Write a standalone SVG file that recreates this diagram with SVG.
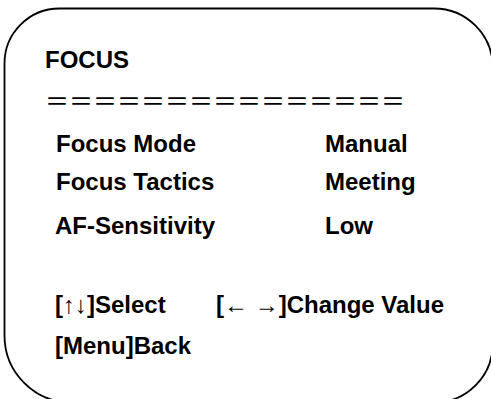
<svg xmlns="http://www.w3.org/2000/svg" width="491" height="399" viewBox="0 0 491 399">
<style>
.t{font-family:"Liberation Sans",Arial,sans-serif;font-weight:bold;font-size:24px;fill:#000}
.eq{font-family:"Noto Sans CJK SC",sans-serif;font-size:24px;fill:#000}
.frame{fill:none;stroke:#000;stroke-width:1.8}
</style>
<g id="frame"><path class="frame" d="M4.5 63.5 A55 55 0 0 1 59.5 8.5 L434 8.5 A58.75 58.75 0 0 1 492.75 67.25 L492.75 343.75 A58.75 58.75 0 0 1 434 402.5 L71.4 402.5 A66.9 66.9 0 0 1 4.5 335.6 Z"/></g>
<g id="title"><text class="t" x="45" y="68">FOCUS</text></g>
<g id="divider"><text class="eq" x="45" y="110">＝＝＝＝＝＝＝＝＝＝＝＝＝＝＝</text></g>
<g id="row-mode"><text class="t" x="56" y="152">Focus Mode</text><text class="t" x="325" y="152">Manual</text></g>
<g id="row-tactics"><text class="t" x="56" y="190">Focus Tactics</text><text class="t" x="325" y="190">Meeting</text></g>
<g id="row-sens"><text class="t" x="55" y="234">AF-Sensitivity</text><text class="t" x="325" y="234">Low</text></g>
<g id="help-select"><text class="t" x="55" y="313">[↑↓]Select</text></g>
<g id="help-change"><text class="t" x="216" y="313">[← →]Change Value</text></g>
<g id="help-back"><text class="t" x="55" y="354">[Menu]Back</text></g>
</svg>
